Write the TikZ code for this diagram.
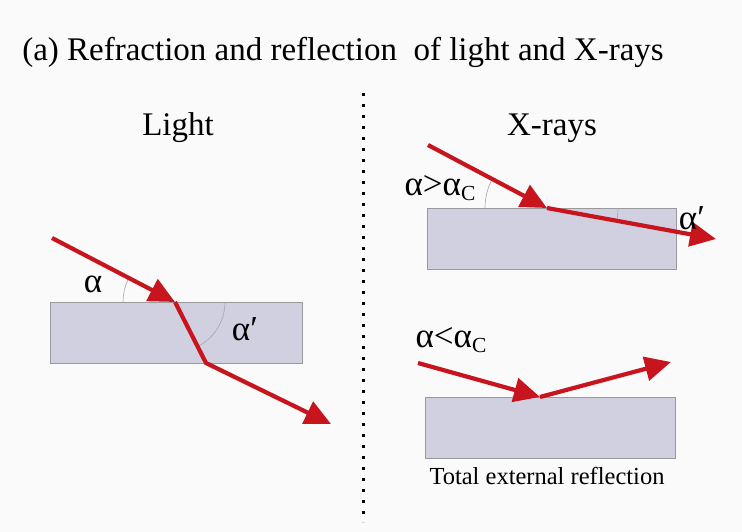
\documentclass[tikz,border=0pt]{standalone}
\usepackage{fontspec}
\setmainfont{Liberation Serif}
\usetikzlibrary{arrows.meta,calc}

\definecolor{raycol}{RGB}{200,20,28}
\definecolor{slabcol}{RGB}{208,208,224}
\newcommand{\subC}{\raisebox{-0.3ex}{\fontsize{15}{15}\selectfont C}}

\begin{document}
\begin{tikzpicture}[x=1pt, y=-1pt,
  slab/.style={draw=gray!80, line width=0.6pt, fill=slabcol, inner sep=0pt, minimum height=61pt},
  ray/.style={draw=raycol, line width=4.2pt, line join=miter, -{Triangle[length=26pt,width=24pt]}},
  arcline/.style={draw=gray!70, line width=0.6pt},
  lbl/.style={inner sep=0pt, anchor=base, font=\fontsize{24.5}{26}\selectfont, scale=1.347, transform shape},
  sym/.style={inner sep=0pt, font=\fontsize{24.5}{26}\selectfont, scale=1.43, transform shape}
]
\useasboundingbox[fill=black!2] (0,0) rectangle (742,532);

% title and headings
\node[lbl, anchor=base west] (title) at (22,61) {(a) Refraction and reflection\ \ of light and X-rays};
\node[lbl] (light) at (178,136) {Light};
\node[lbl] (xray) at (552,136) {X-rays};

% divider
\coordinate (dtop) at (363,93);
\coordinate (dbot) at (363,522);
\draw[line width=3pt, dash pattern=on 3pt off 8pt] (dtop) -- (dbot);

% light: refraction into the slab
\node[slab, minimum width=252pt] (slabL) at (176,332.5) {};
\coordinate (inL) at (52,238);
\coordinate (hitL) at (175,302);
\coordinate (exitL) at (206,363);
\coordinate (outL) at (331,424);
\draw[arcline] ($(hitL)+(180:52)$) arc[start angle=180, end angle=206, radius=52];
\draw[arcline] ($(hitL)+(0:50)$) arc[start angle=0, end angle=62, radius=50];
\draw[ray] (inL) -- (hitL);
\draw[ray] (hitL) -- (exitL) -- (outL);
\node[sym] (alphaL) at (93,284) {α};
\node[sym] (alphaRL) at (245,329) {α′};

% x-rays: refraction above the critical angle
\node[slab, minimum width=249pt] (slabT) at (551.5,239) {};
\coordinate (inT) at (428,145);
\coordinate (hitT) at (547,208);
\coordinate (outT) at (716,239);
\draw[arcline] ($(hitT)+(180:62)$) arc[start angle=180, end angle=208, radius=62];
\draw[arcline] ($(hitT)+(0:71)$) arc[start angle=0, end angle=10.5, radius=71];
\draw[ray] (inT) -- (hitT);
\draw[ray] (hitT) -- (outT);
\node[sym] (critT) at (440,188) {α>α\subC};
\node[sym] (alphaRT) at (692,218) {α′};

% x-rays: total external reflection
\node[slab, minimum width=250pt] (slabB) at (550,427.5) {};
\coordinate (inB) at (418,363);
\coordinate (hitB) at (540,397);
\coordinate (outB) at (671,362);
\draw[ray] (inB) -- (hitB);
\draw[ray] (hitB) -- (outB);
\node[sym] (critB) at (451,340) {α<α\subC};
\node[inner sep=0pt, anchor=base, font=\fontsize{24.5}{26}\selectfont] (terLabel) at (547,484) {Total external reflection};
\end{tikzpicture}
\end{document}
